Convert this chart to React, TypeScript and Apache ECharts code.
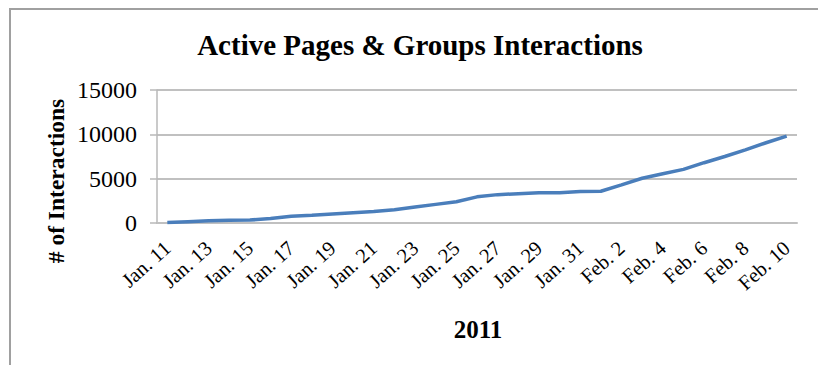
import React, { useEffect, useRef } from "react";
import * as echarts from "echarts";

const categories: string[] = [
  "Jan. 11", "Jan. 12", "Jan. 13", "Jan. 14", "Jan. 15", "Jan. 16", "Jan. 17", "Jan. 18",
  "Jan. 19", "Jan. 20", "Jan. 21", "Jan. 22", "Jan. 23", "Jan. 24", "Jan. 25", "Jan. 26",
  "Jan. 27", "Jan. 28", "Jan. 29", "Jan. 30", "Jan. 31", "Feb. 1", "Feb. 2", "Feb. 3",
  "Feb. 4", "Feb. 5", "Feb. 6", "Feb. 7", "Feb. 8", "Feb. 9", "Feb. 10",
];

const interactions: number[] = [
  50, 150, 250, 300, 330, 500, 750, 880, 1020, 1160, 1300, 1500, 1800, 2100, 2400, 2950,
  3200, 3300, 3400, 3420, 3550, 3580, 4300, 5050, 5550, 6050, 6800, 7500, 8250, 9050, 9800,
];

const yTicks: number[] = [0, 5000, 10000, 15000];

const titleText = "Active Pages & Groups Interactions";
const xAxisName = "2011";
const yAxisName = "# of Interactions";

const FONT = "'Liberation Serif', 'Times New Roman', serif";

export default function App() {
  const ref = useRef<HTMLDivElement>(null);

  useEffect(() => {
    if (!ref.current) return;
    const chart = echarts.init(ref.current, null, { renderer: "svg" });
    chart.setOption({
      animation: false,
      backgroundColor: "#ffffff",
      graphic: [
        {
          type: "rect",
          shape: { x: 10, y: 9, width: 830, height: 400 },
          style: { fill: "none", stroke: "#a0a0a0", lineWidth: 2 },
          silent: true,
        },
        {
          type: "text",
          x: 420,
          y: 45,
          style: {
            text: titleText,
            fontFamily: FONT,
            fontWeight: "bold",
            fontSize: 29,
            fill: "#000",
            textAlign: "center",
            textVerticalAlign: "middle",
          },
        },
        {
          type: "text",
          x: 478,
          y: 329,
          style: {
            text: xAxisName,
            fontFamily: FONT,
            fontWeight: "bold",
            fontSize: 25,
            fill: "#000",
            textAlign: "center",
            textVerticalAlign: "middle",
          },
        },
        {
          type: "text",
          x: 56,
          y: 181,
          rotation: Math.PI / 2,
          style: {
            text: yAxisName,
            fontFamily: FONT,
            fontWeight: "bold",
            fontSize: 23.5,
            fill: "#000",
            textAlign: "center",
            textVerticalAlign: "middle",
          },
        },
      ],
      grid: { left: 157, right: 21, top: 90, bottom: 142, containLabel: false },
      xAxis: {
        type: "category",
        data: categories,
        boundaryGap: true,
        axisLine: { show: true, lineStyle: { color: "#c0c0c0", width: 2 } },
        axisTick: { show: false },
        axisLabel: {
          interval: 1,
          rotate: 42,
          margin: 22,
          fontFamily: FONT,
          fontSize: 20.5,
          color: "#000",
        },
        splitLine: { show: false },
      },
      yAxis: {
        type: "value",
        min: yTicks[0],
        max: yTicks[yTicks.length - 1],
        interval: 5000,
        axisLine: { show: true, lineStyle: { color: "#b8b8b8", width: 1.5 } },
        axisTick: { show: true, length: 7, lineStyle: { color: "#b8b8b8", width: 1.5 } },
        axisLabel: {
          margin: 20,
          fontFamily: FONT,
          fontSize: 24,
          color: "#000",
          formatter: (v: number) => String(v),
        },
        splitLine: { show: true, lineStyle: { color: "#c0c0c0", width: 2 } },
      },
      series: [
        {
          type: "line",
          data: interactions,
          symbol: "none",
          smooth: false,
          lineStyle: { color: "#4a7ebb", width: 3.5 },
        },
      ],
    });
    return () => chart.dispose();
  }, []);

  return (
    <div
      ref={ref}
      style={{ position: "fixed", left: 0, top: 0, width: 818, height: 365 }}
    />
  );
}
